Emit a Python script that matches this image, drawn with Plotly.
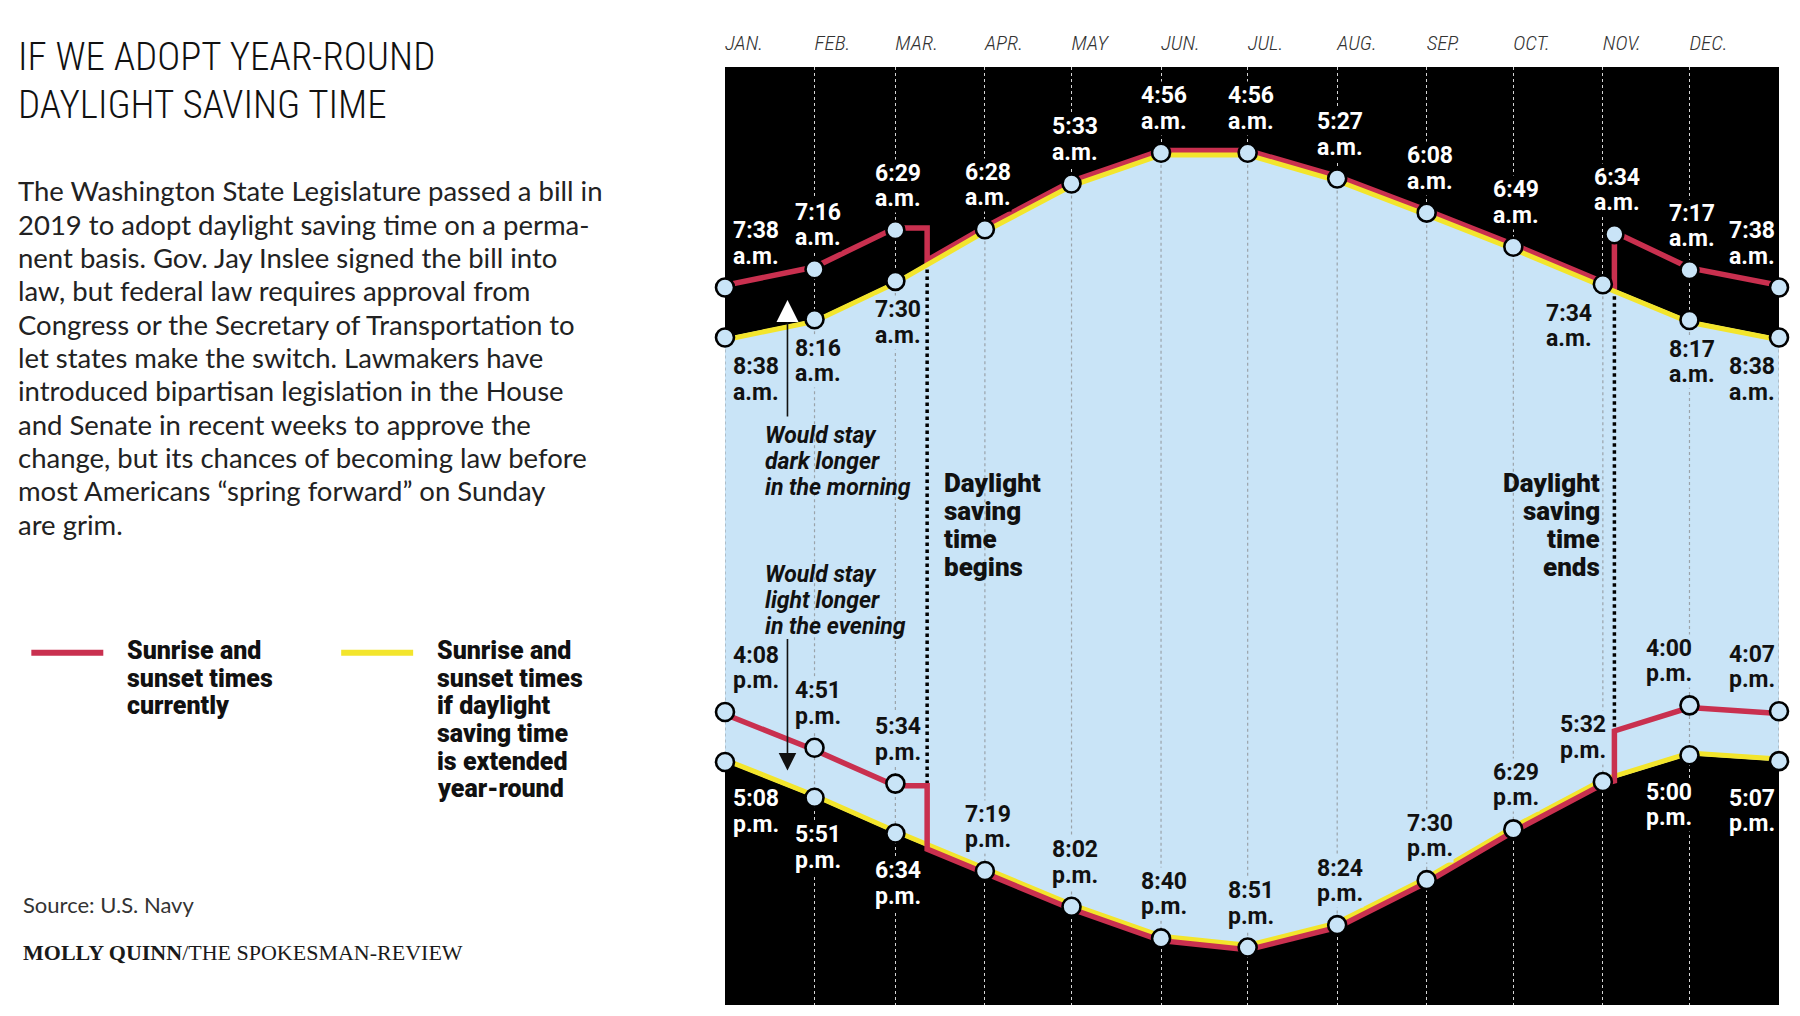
import plotly.graph_objects as go

# ---------------- data ----------------
MONTHS = ["2023-01-01", "2023-02-01", "2023-03-01", "2023-04-01", "2023-05-01",
          "2023-06-01", "2023-07-01", "2023-08-01", "2023-09-01", "2023-10-01",
          "2023-11-01", "2023-12-01", "2024-01-01"]
MONTH_LABELS = ["JAN.", "FEB.", "MAR.", "APR.", "MAY", "JUN.", "JUL.", "AUG.",
                "SEP.", "OCT.", "NOV.", "DEC."]

SUNRISE_NOW = ["07:38", "07:16", "06:29", "06:28", "05:33", "04:56", "04:56",
               "05:27", "06:08", "06:49", "07:34", "07:17", "07:38"]
SUNRISE_DST = ["08:38", "08:16", "07:30", "06:28", "05:33", "04:56", "04:56",
               "05:27", "06:08", "06:49", "07:34", "08:17", "08:38"]
SUNSET_NOW = ["16:08", "16:51", "17:34", "19:19", "20:02", "20:40", "20:51",
              "20:24", "19:30", "18:29", "17:32", "16:00", "16:07"]
SUNSET_DST = ["17:08", "17:51", "18:34", "19:19", "20:02", "20:40", "20:51",
              "20:24", "19:30", "18:29", "17:32", "17:00", "17:07"]

DST_SWITCH = ["2023-03-12", "2023-11-05"]
SUNRISE_NOW_BEFORE = ["06:29", "07:40"]
SUNRISE_NOW_AFTER = ["07:08", "06:34"]
SUNSET_NOW_BEFORE = ["17:34", "17:28"]
SUNSET_NOW_AFTER = ["18:50", "16:28"]

Y_RANGE = ["22:00", "03:13"]          # bottom, top (time of day runs downward)

TITLE_LINES = ["IF WE ADOPT YEAR-ROUND", "DAYLIGHT SAVING TIME"]
BODY_LINES = [
    "The Washington State Legislature passed a bill in",
    "2019 to adopt daylight saving time on a perma-",
    "nent basis. Gov. Jay Inslee signed the bill into",
    "law, but federal law requires approval from",
    "Congress or the Secretary of Transportation to",
    "let states make the switch. Lawmakers have",
    "introduced bipartisan legislation in the House",
    "and Senate in recent weeks to approve the",
    "change, but its chances of becoming law before",
    "most Americans \u201cspring forward\u201d on Sunday",
    "are grim.",
]
LEGEND_NOW = ["Sunrise and", "sunset times", "currently"]
LEGEND_DST = ["Sunrise and", "sunset times", "if daylight", "saving time",
              "is extended", "year-round"]
NOTE_DARK = ["Would stay", "dark longer", "in the morning"]
NOTE_LIGHT = ["Would stay", "light longer", "in the evening"]
NOTE_BEGIN = ["Daylight", "saving", "time", "begins"]
NOTE_END = ["Daylight", "saving", "time", "ends"]
SOURCE = "Source: U.S. Navy"
CREDIT = "<b>MOLLY QUINN</b>/THE SPOKESMAN-REVIEW"

# ---------------- style / geometry ----------------
PAGE = 8                      # body margin of the html page
W, H = 1800 - PAGE, 1016 - PAGE
PL, PR, PT, PB = 725, 1779.5, 67, 1005.5   # plot area on screen
L, T = PL - PAGE, PT - PAGE
R, B = W - (PR - PAGE), H - (PB - PAGE)
PW, PH = PR - PL, PB - PT
BLUE = "#c9e4f7"
RED = "#c9304f"
YEL = "#f3e52c"
SANS = "Roboto, 'Open Sans', sans-serif"
BODY = "Lato, 'Open Sans', sans-serif"
COND = "'Roboto Condensed', 'DejaVu Sans Condensed', sans-serif"
SERIF = "'Liberation Serif', 'DejaVu Serif', serif"


def tmin(s):
    h, m = s.split(":")
    return int(h) * 60 + int(m)


def tlabel(s):
    h, m = s.split(":")
    h = int(h)
    suffix = "a.m." if h < 12 else "p.m."
    hh = h if h <= 12 else h - 12
    return [f"{hh}:{m}", suffix]


y0, y1 = tmin(Y_RANGE[0]), tmin(Y_RANGE[1])
OFF = 2.7   # minutes, keeps red and yellow side by side where they coincide


def path(values, switch_before=None, switch_after=None):
    pts = [(d, tmin(v)) for d, v in zip(MONTHS, values)]
    if switch_before:
        for d, b, a in zip(DST_SWITCH, switch_before, switch_after):
            pts += [(d, tmin(b)), (d, tmin(a))]
    pts = sorted(pts, key=lambda p: p[0])
    return [p[0] for p in pts], [p[1] for p in pts]


sr_dst = [tmin(v) for v in SUNRISE_DST]
ss_dst = [tmin(v) for v in SUNSET_DST]
sr_now = [tmin(v) for v in SUNRISE_NOW]
ss_now = [tmin(v) for v in SUNSET_NOW]

fig = go.Figure()

# daylight (under year-round DST) area
fig.add_trace(go.Scatter(x=MONTHS, y=sr_dst, mode="lines", line=dict(width=0),
                         hoverinfo="skip", showlegend=False))
fig.add_trace(go.Scatter(x=MONTHS, y=ss_dst, mode="lines", line=dict(width=0),
                         fill="tonexty", fillcolor=BLUE, hoverinfo="skip",
                         showlegend=False))

# gray dotted month lines inside daylight
gx, gy = [], []
for d, a, b in zip(MONTHS, sr_dst, ss_dst):
    gx += [d, d, None]
    gy += [a, b, None]
fig.add_trace(go.Scatter(x=gx, y=gy, mode="lines",
                         line=dict(color="#9ba3aa", width=1.2, dash="dot"),
                         hoverinfo="skip", showlegend=False))

# DST switch dotted lines
dx, dy = [], []
for d, rb, ra, sb, sa in zip(DST_SWITCH, SUNRISE_NOW_BEFORE, SUNRISE_NOW_AFTER,
                             SUNSET_NOW_BEFORE, SUNSET_NOW_AFTER):
    dx += [d, d, None]
    dy += [max(tmin(rb), tmin(ra)), min(tmin(sb), tmin(sa)), None]
fig.add_trace(go.Scatter(x=dx, y=dy, mode="lines",
                         line=dict(color="#000000", width=3.5, dash="dot"),
                         hoverinfo="skip", showlegend=False))

# yellow lines (year-round DST)
fig.add_trace(go.Scatter(x=MONTHS, y=ss_dst, mode="lines", yaxis="y2",
                         line=dict(color=YEL, width=5), hoverinfo="skip",
                         showlegend=False))
fig.add_trace(go.Scatter(x=MONTHS, y=sr_dst, mode="lines", yaxis="y3",
                         line=dict(color=YEL, width=5), hoverinfo="skip",
                         showlegend=False))
# red lines (current)
rx, ry = path(SUNRISE_NOW, SUNRISE_NOW_BEFORE, SUNRISE_NOW_AFTER)
fig.add_trace(go.Scatter(x=rx, y=ry, mode="lines", yaxis="y2",
                         line=dict(color=RED, width=5.5), hoverinfo="skip",
                         showlegend=False))
sx, sy = path(SUNSET_NOW, SUNSET_NOW_BEFORE, SUNSET_NOW_AFTER)
fig.add_trace(go.Scatter(x=sx, y=sy, mode="lines", yaxis="y3",
                         line=dict(color=RED, width=5.5), hoverinfo="skip",
                         showlegend=False))

# markers
mx, my = [], []
for i, d in enumerate(MONTHS):
    mx += [d, d]
    my += [sr_now[i], ss_now[i]]
    if sr_dst[i] != sr_now[i]:
        mx.append(d); my.append(sr_dst[i])
    if ss_dst[i] != ss_now[i]:
        mx.append(d); my.append(ss_dst[i])
mx.append(DST_SWITCH[1]); my.append(tmin(SUNRISE_NOW_AFTER[1]))
fig.add_trace(go.Scatter(x=mx, y=my, mode="markers", yaxis="y4", cliponaxis=False,
                         marker=dict(size=18, color=BLUE,
                                     line=dict(color="#000000", width=2.6)),
                         hoverinfo="skip", showlegend=False))

# ---------------- annotations ----------------
anns = []


def px(x):
    return (x - PL) / PW


def py(y):
    return 1 - (y - PT) / PH


def text_px(text, x, y, size, color="#111", anchor="left", family=SANS,
            weight=400, style="normal"):
    anns.append(dict(text=text, xref="paper", yref="paper", x=px(x), y=py(y),
                     xanchor=anchor, yanchor="middle", showarrow=False,
                     borderpad=0,
                     font=dict(family=family, size=size, color=color,
                               weight=weight, style=style)))


def lines_px(lines, x, y, pitch, size, **kw):
    for k, t in enumerate(lines):
        text_px(t, x, y + k * pitch, size, **kw)


PITCH = 25.5


def data_label(date, value, above, color, bg, anchor="center", xs=3,
               first=None):
    lines = tlabel(value)
    if first is None:
        first = 57 if above else -29
    for k, t in enumerate(lines):
        anns.append(dict(text=t, x=date, y=tmin(value), xref="x", yref="y",
                         xanchor=anchor, yanchor="middle", showarrow=False,
                         xshift=xs, yshift=first - k * PITCH,
                         bgcolor=bg, borderpad=0,
                         font=dict(family=SANS, size=23, color=color, weight=700)))


def hplace(i):
    if i == 0:
        return "left", 7
    if i == len(MONTHS) - 1:
        return "right", -3
    return "center", 3


# sunrise labels
for i, d in enumerate(MONTHS):
    a, s = hplace(i)
    if i != 10:
        data_label(d, SUNRISE_NOW[i], True, "white", "#000000", a, s)
    if SUNRISE_DST[i] != SUNRISE_NOW[i] or i == 10:
        if i == 10:
            a, s = "right", -10
        data_label(d, SUNRISE_DST[i], False, "#111111", BLUE, a, s)
data_label(DST_SWITCH[1], SUNRISE_NOW_AFTER[1], True, "white", "#000000")

# sunset labels
for i, d in enumerate(MONTHS):
    a, s = hplace(i)
    if i == 10:
        a, s = "right", 4
    if i == 11:
        a, s = "center", -20
    data_label(d, SUNSET_NOW[i], True, "#111111", BLUE, a, s)
    if SUNSET_DST[i] != SUNSET_NOW[i]:
        data_label(d, SUNSET_DST[i], False, "white", "#000000", a, s, first=-37)

# title, body, legend, credits
text_px(TITLE_LINES[0], 17, 57, 39, "#111", family=COND, weight=300)
text_px(TITLE_LINES[1], 17, 105, 39, "#111", family=COND, weight=300)
lines_px(BODY_LINES, 17, 191, 33.35, 27.5, color="#222", family=BODY)

lines_px(LEGEND_NOW, 126, 651, 27.6, 25, color="#111", weight=900)
lines_px(LEGEND_DST, 436, 651, 27.6, 25, color="#111", weight=900)

text_px(SOURCE, 22, 905, 22, "#333", family=BODY)
text_px(CREDIT, 22, 953, 22, "#1a1a1a", family=SERIF)

# notes inside the chart
lines_px(NOTE_DARK, 764, 436, 26, 23, color="#111", weight=700, style="italic")
lines_px(NOTE_LIGHT, 764, 575, 26, 23, color="#111", weight=700, style="italic")
lines_px(NOTE_BEGIN, 943, 483, 28, 26, color="#111", weight=900)
lines_px(NOTE_END, 1601, 483, 28, 26, color="#111", weight=900, anchor="right")

# arrows
anns.append(dict(x=px(787.5), y=py(300), xref="paper", yref="paper", text="",
                 showarrow=True, axref="pixel", ayref="pixel", ax=0, ay=118,
                 arrowcolor="#111", arrowwidth=1.6, arrowhead=0))
anns.append(dict(x=px(787.5), y=py(300), xref="paper", yref="paper", text="",
                 showarrow=True, axref="pixel", ayref="pixel", ax=0, ay=16,
                 arrowcolor="white", arrowwidth=2, arrowhead=2, arrowsize=2.2))
anns.append(dict(x=px(787.5), y=py(771), xref="paper", yref="paper", text="",
                 showarrow=True, axref="pixel", ayref="pixel", ax=0, ay=-133,
                 arrowcolor="#111", arrowwidth=1.6, arrowhead=2, arrowsize=2.2))

shapes = [
    dict(type="line", xref="paper", yref="paper", x0=px(31), x1=px(103),
         y0=py(653), y1=py(653), line=dict(color=RED, width=6)),
    dict(type="line", xref="paper", yref="paper", x0=px(341), x1=px(413),
         y0=py(653), y1=py(653), line=dict(color=YEL, width=6)),
]

yax = dict(range=[y0, y1], visible=False, showgrid=False, zeroline=False,
           fixedrange=True)
fig.update_layout(
    width=W, height=H,
    margin=dict(l=L, r=R, t=T, b=B, autoexpand=False),
    paper_bgcolor="white", plot_bgcolor="#000000",
    showlegend=False,
    xaxis=dict(type="date", range=[MONTHS[0], MONTHS[-1]], side="top",
               tickvals=MONTHS, ticktext=MONTH_LABELS + [""],
               ticklabelposition="outside right", ticks="", ticklabelstandoff=12,
               tickfont=dict(family=COND, size=21, color="#333", style="italic",
                             weight=300),
               showgrid=True, gridcolor="#d4d4d4", gridwidth=1.3, griddash="dot",
               zeroline=False, showline=False),
    yaxis=yax,
    yaxis2=dict(yax, range=[y0 + OFF, y1 + OFF], overlaying="y"),
    yaxis3=dict(yax, range=[y0 - OFF, y1 - OFF], overlaying="y"),
    yaxis4=dict(yax, overlaying="y"),
    annotations=anns,
    shapes=shapes,
)

fig.write_html("out.html")
